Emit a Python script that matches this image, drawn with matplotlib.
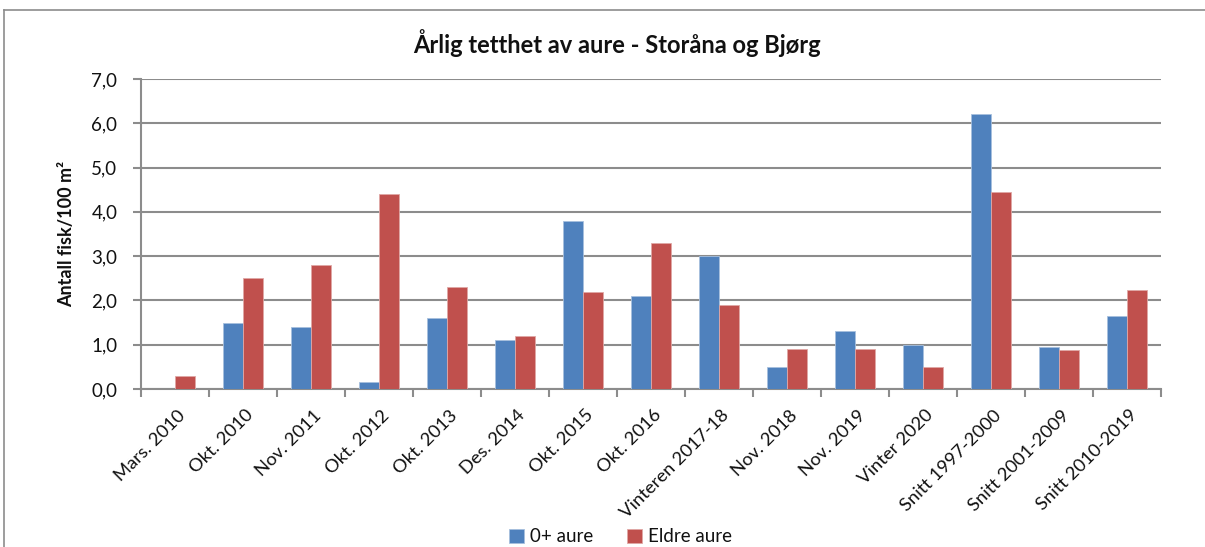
import matplotlib
matplotlib.use("Agg")
import matplotlib.pyplot as plt
import numpy as np
from matplotlib.lines import Line2D

categories = ["Mars. 2010", "Okt. 2010", "Nov. 2011", "Okt. 2012", "Okt. 2013",
              "Des. 2014", "Okt. 2015", "Okt. 2016", "Vinteren 2017-18", "Nov. 2018",
              "Nov. 2019", "Vinter 2020", "Snitt 1997-2000", "Snitt 2001-2009",
              "Snitt 2010-2019"]
aure_0 = [0.0, 1.5, 1.4, 0.15, 1.6, 1.1, 3.8, 2.1, 3.0, 0.5, 1.3, 1.0, 6.22, 0.95, 1.64]
eldre_aure = [0.3, 2.5, 2.8, 4.4, 2.3, 1.2, 2.2, 3.3, 1.9, 0.9, 0.9, 0.5, 4.44, 0.87, 2.23]
yticks = [0, 1, 2, 3, 4, 5, 6, 7]
title = "Årlig tetthet av aure - Storåna og Bjørg"
ylabel = "Antall fisk/100 m²"
series_names = ["0+ aure", "Eldre aure"]

plt.rcParams['font.family'] = ['Lato', 'DejaVu Sans']

fig = plt.figure(figsize=(12.05, 5.47), dpi=100)
ax = fig.add_axes([141/1205, 1 - 389/547, (1161 - 141)/1205, (389 - 79)/547])

blue = "#4F81BD"
red = "#C0504D"
txt = "#111111"
x = np.arange(len(categories))
w = 0.287
ax.bar(x - w/2, aure_0, width=w, color=blue, edgecolor="#A7C0DE", linewidth=0.6, label=series_names[0], zorder=3)
ax.bar(x + w/2, eldre_aure, width=w, color=red, edgecolor="#E0A8A6", linewidth=0.6, label=series_names[1], zorder=3)

ax.set_xlim(-0.5, len(categories) - 0.5)
ax.set_ylim(0, 7)
ax.set_yticks(yticks)
ax.set_yticklabels([f"{v:.1f}".replace(".", ",") for v in yticks], fontsize=13.5, color=txt)
ax.yaxis.grid(True, color="#8C8C8C", linewidth=1.5, zorder=0)
ax.tick_params(axis='y', length=6, width=1.5, color="#8C8C8C", pad=11)

ax.set_xticks(np.arange(-0.5, len(categories), 1.0))
ax.set_xticklabels([])
ax.tick_params(axis='x', which='major', length=6, width=1.5, color="#8C8C8C")
ax.set_xticks(x + 0.03, minor=True)
ax.set_xticklabels(categories, minor=True, rotation=45, ha='right', rotation_mode='anchor',
                   fontsize=13.2, color=txt)
ax.tick_params(axis='x', which='minor', length=0, pad=13)

for s in ["top", "right"]:
    ax.spines[s].set_visible(False)
for s in ["left", "bottom"]:
    ax.spines[s].set_color("#8C8C8C")
    ax.spines[s].set_linewidth(1.5)

ax.set_ylabel(ylabel, fontsize=13, fontweight='bold', labelpad=12, color=txt)
fig.text(0.512, 1 - 43/547, title, ha='center', va='center', fontsize=17, fontweight='bold', color=txt)

fig.legend(loc='center', bbox_to_anchor=(0.515, 1 - 537/547), ncol=2, frameon=False,
           fontsize=13.5, handlelength=0.8, handleheight=0.8, handletextpad=0.3,
           columnspacing=1.8, labelcolor=txt)

fig.add_artist(Line2D([4/1205, 1.0], [1 - 10/547, 1 - 10/547], transform=fig.transFigure,
                      color="#8C8C8C", linewidth=1.2))
fig.add_artist(Line2D([4/1205, 4/1205], [0, 1 - 10/547], transform=fig.transFigure,
                      color="#8C8C8C", linewidth=1.2))

fig.savefig("out.png", dpi=100)
